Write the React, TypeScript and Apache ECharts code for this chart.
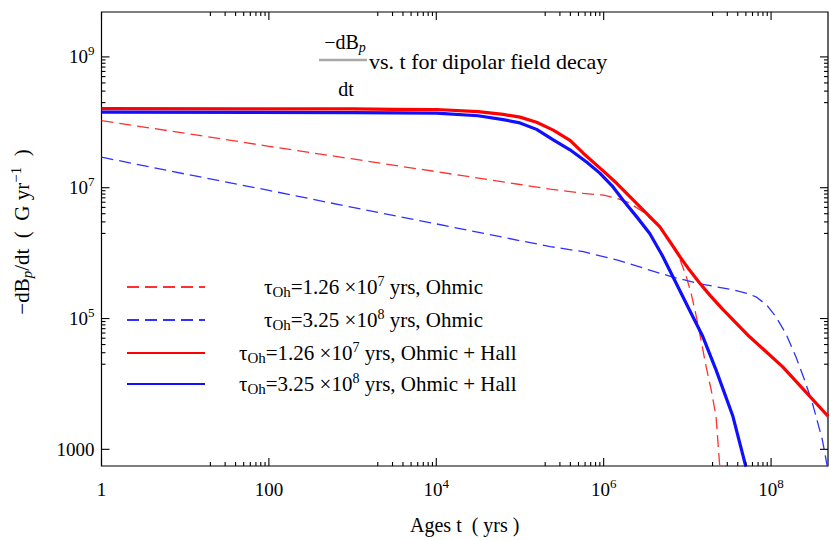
import React, { useEffect, useRef } from "react";
import * as echarts from "echarts";

const FONT = "Liberation Serif, Times New Roman, serif";

// Age t (yrs) versus -dB_p/dt (G/yr)
const ohmic126: [number, number][] = [
  [1, 1.06e8], [10, 6.8e7], [100, 4.3e7], [1e3, 2.75e7], [1e4, 1.76e7], [1e5, 1.12e7],
  [2.3e5, 9.5e6], [5.7e5, 8.2e6], [1e6, 7.7e6], [1.43e6, 6.9e6], [2e6, 5.9e6], [2.95e6, 4.3e6],
  [4.67e6, 2.5e6], [6e6, 1.6e6], [7.4e6, 1.12e6], [9.7e6, 4.4e5], [1.12e7, 2.3e5],
  [1.28e7, 1.07e5], [1.46e7, 4.6e4], [1.68e7, 1.8e4], [1.93e7, 8e3], [2.2e7, 3.2e3], [2.45e7, 500],
];
const ohmic325: [number, number][] = [
  [1, 2.93e7], [10, 1.62e7], [100, 9.1e6], [1e3, 5.0e6], [1e4, 2.8e6], [1e5, 1.55e6],
  [2.3e5, 1.26e6], [5.7e5, 1.05e6], [1.43e6, 7.9e5], [3.55e6, 5.5e5], [6.7e6, 4.3e5],
  [1.4e7, 3.4e5], [3.5e7, 2.75e5], [5e7, 2.45e5], [6.6e7, 2.15e5], [8.9e7, 1.6e5],
  [1.14e8, 1.07e5], [1.51e8, 5.8e4], [1.98e8, 2.6e4], [2.5e8, 1.17e4], [3.12e8, 5.1e3],
  [4.1e8, 1.4e3], [4.7e8, 545],
];
const ohmicHall126: [number, number][] = [
  [1, 1.62e8], [1e3, 1.6e8], [3.16e3, 1.58e8], [1e4, 1.57e8], [3.16e4, 1.46e8], [6.3e4, 1.32e8],
  [1e5, 1.2e8], [1.58e5, 1.0e8], [2.5e5, 7.6e7], [4e5, 5.25e7], [5.7e5, 3.37e7], [1e6, 1.78e7],
  [1.43e6, 1.17e7], [2e6, 7.6e6], [2.95e6, 4.6e6], [4.67e6, 2.54e6], [6.3e6, 1.45e6],
  [8.1e6, 8.9e5], [1.05e7, 5.6e5], [1.4e7, 3.5e5], [1.9e7, 2.2e5], [2.65e7, 1.38e5],
  [5.5e7, 5.3e4], [1.37e8, 1.84e4], [4.8e8, 3.2e3],
];
const ohmicHall325: [number, number][] = [
  [1, 1.43e8], [1e3, 1.41e8], [1e4, 1.38e8], [3.16e4, 1.26e8], [6.3e4, 1.1e8], [1e5, 9.8e7],
  [1.58e5, 7.8e7], [2.5e5, 5.4e7], [3.96e5, 3.8e7], [6.3e5, 2.45e7], [9e5, 1.67e7],
  [1.26e6, 1.07e7], [1.7e6, 6.5e6], [2.5e6, 3.55e6], [3.55e6, 2.0e6], [5e6, 9.3e5],
  [6.7e6, 4.4e5], [1.06e7, 1.35e5], [1.53e7, 5.3e4], [2.2e7, 1.64e4], [3.5e7, 3.2e3], [5.0e7, 545],
];

const seriesNames = [
  "τOh=1.26 ×10^7 yrs, Ohmic",
  "τOh=3.25 ×10^8 yrs, Ohmic",
  "τOh=1.26 ×10^7 yrs, Ohmic + Hall",
  "τOh=3.25 ×10^8 yrs, Ohmic + Hall",
];
const legendLabels = [
  "{gap|}τ{sub|Oh}=1.26 ×10{sup|7} yrs, Ohmic",
  "{gap|}τ{sub|Oh}=3.25 ×10{sup|8} yrs, Ohmic",
  "{gapw|}τ{sub|Oh}=1.26 ×10{sup|7} yrs, Ohmic + Hall",
  "{gapw|}τ{sub|Oh}=3.25 ×10{sup|8} yrs, Ohmic + Hall",
];
const legendRowY = [286, 319, 352, 383];

// axis extents and tick layout (powers of ten)
const X_MIN = 1;
const X_MAX = 4.79e8;
const Y_MIN = 556;
const Y_MAX = 4.86e9;
const xLabelPowers = [0, 2, 4, 6, 8];
const yLabelPowers = [3, 5, 7, 9];
const xMinorDecades = [10, 1e3, 1e5, 1e7];
const yMinorDecades = [1e4, 1e6, 1e8];
const minorSteps = [2, 3, 4, 5, 6, 7, 8, 9];
const MAJOR_LEN = 8;
const MINOR_LEN = 4;

const supRich = {
  sup: { fontFamily: FONT, fontSize: 13, color: "#000", lineHeight: 10, padding: [0, 0, 12, 0] },
};

function powerLabel(v: number, powers: number[]): string {
  const lg = Math.log10(v);
  const e = Math.round(lg);
  if (Math.abs(lg - e) > 1e-6 || !powers.includes(e)) return "";
  if (e === 0) return "1";
  if (e === 2) return "100";
  if (e === 3) return "1000";
  return `10{sup|${e}}`;
}

export default function App() {
  const ref = useRef<HTMLDivElement>(null);

  useEffect(() => {
    if (!ref.current) return;
    const chart = echarts.init(ref.current, undefined, { renderer: "svg" });

    const xTicks: number[][] = [
      ...xLabelPowers.map((p) => [Math.pow(10, p), Y_MIN * 10, MAJOR_LEN]),
      ...xMinorDecades.flatMap((d) => minorSteps.map((m) => [m * d, Y_MIN * 10, MINOR_LEN])),
    ];
    const yTicks: number[][] = [
      ...yLabelPowers.map((p) => [10, Math.pow(10, p), MAJOR_LEN]),
      ...yMinorDecades.flatMap((d) => minorSteps.map((m) => [10, m * d, MINOR_LEN])),
    ];

    const tickStyle = { stroke: "#000", lineWidth: 1.1 };

    const lineSeries = [
      { data: ohmic126, color: "#ff3030", width: 1.3, dashed: true },
      { data: ohmic325, color: "#3030ff", width: 1.3, dashed: true },
      { data: ohmicHall126, color: "#ff0000", width: 3.2, dashed: false },
      { data: ohmicHall325, color: "#1010ff", width: 3.2, dashed: false },
    ].map((s, i) => ({
      type: "line",
      name: seriesNames[i],
      data: s.data,
      symbol: "none",
      smooth: false,
      clip: true,
      color: s.color,
      lineStyle: { color: s.color, width: s.width, type: s.dashed ? [12, 6] : "solid", join: "round" },
      z: s.dashed ? 2 : 3,
    }));

    chart.setOption({
      animation: false,
      backgroundColor: "#ffffff",
      title: {
        text: "vs. t for dipolar field decay",
        left: 369,
        top: 50,
        padding: 0,
        textStyle: { fontFamily: FONT, fontSize: 22, fontWeight: "normal", color: "#000" },
      },
      graphic: [
        {
          type: "text",
          x: 345,
          y: 42,
          style: {
            text: "−dB{p|p}",
            fontFamily: FONT,
            fontSize: 20,
            fill: "#000",
            align: "center",
            verticalAlign: "middle",
            rich: {
              p: { fontFamily: FONT, fontStyle: "italic", fontSize: 14, fill: "#000", lineHeight: 12, padding: [10, 0, 0, 0] },
            },
          },
        },
        {
          type: "line",
          shape: { x1: 319, y1: 60, x2: 367, y2: 60 },
          style: { stroke: "#a8a8a8", lineWidth: 2.5 },
        },
        {
          type: "text",
          x: 346,
          y: 89,
          style: { text: "dt", fontFamily: FONT, fontSize: 20, fill: "#000", align: "center", verticalAlign: "middle" },
        },
      ],
      legend: seriesNames.map((name, i) => ({
        data: [name],
        left: 126,
        top: legendRowY[i] - 12,
        padding: 0,
        itemWidth: 78,
        itemHeight: 14,
        selectedMode: false,
        itemStyle: { opacity: 0 },
        formatter: () => legendLabels[i],
        textStyle: {
          fontFamily: FONT,
          fontSize: 21,
          color: "#000",
          lineHeight: 24,
          rich: {
            gap: { width: 54 },
            gapw: { width: 29 },
            sub: { fontFamily: FONT, fontSize: 15, color: "#000", lineHeight: 14, padding: [10, 0, 0, 0] },
            sup: { fontFamily: FONT, fontSize: 14, color: "#000", lineHeight: 12, padding: [0, 0, 12, 0] },
          },
        },
      })),
      grid: {
        left: 101,
        right: 1,
        top: 12,
        bottom: 74,
        show: true,
        borderColor: "#000",
        borderWidth: 1.2,
        backgroundColor: "transparent",
      },
      xAxis: {
        type: "log",
        logBase: 10,
        min: X_MIN,
        max: X_MAX,
        axisLine: { show: false },
        axisTick: { show: false },
        splitLine: { show: false },
        axisLabel: {
          margin: 12,
          fontFamily: FONT,
          fontSize: 19,
          color: "#000",
          lineHeight: 22,
          formatter: (v: number) => powerLabel(v, xLabelPowers),
          rich: supRich,
        },
        name: "Ages t  ( yrs )",
        nameLocation: "middle",
        nameGap: 49,
        nameTextStyle: { fontFamily: FONT, fontSize: 20, color: "#000" },
      },
      yAxis: {
        type: "log",
        logBase: 10,
        min: Y_MIN,
        max: Y_MAX,
        axisLine: { show: false },
        axisTick: { show: false },
        splitLine: { show: false },
        axisLabel: {
          margin: 7,
          fontFamily: FONT,
          fontSize: 19,
          color: "#000",
          lineHeight: 22,
          formatter: (v: number) => powerLabel(v, yLabelPowers),
          rich: supRich,
        },
        name: "−dB{sub|p}/dt  (  G yr{sup|−1}  )",
        nameLocation: "middle",
        nameRotate: 90,
        nameGap: 68,
        nameTextStyle: {
          fontFamily: FONT,
          fontSize: 21,
          color: "#000",
          lineHeight: 24,
          padding: [0, 0, 0, 14],
          rich: {
            sub: { fontFamily: FONT, fontStyle: "italic", fontSize: 15, color: "#000", lineHeight: 14, padding: [10, 0, 0, 0] },
            sup: { fontFamily: FONT, fontSize: 15, color: "#000", lineHeight: 12, padding: [0, 0, 12, 0] },
          },
        },
      },
      series: [
        ...lineSeries,
        {
          type: "custom",
          silent: true,
          z: 5,
          clip: false,
          encode: { x: 0, y: 1 },
          data: xTicks,
          renderItem: (params: any, api: any) => {
            const cs = params.coordSys;
            const px = api.coord([api.value(0), Y_MIN * 10])[0];
            const len = api.value(2);
            const yb = cs.y + cs.height;
            return {
              type: "group",
              children: [
                { type: "line", shape: { x1: px, y1: yb, x2: px, y2: yb - len }, style: tickStyle },
                { type: "line", shape: { x1: px, y1: cs.y, x2: px, y2: cs.y + len }, style: tickStyle },
              ],
            };
          },
        },
        {
          type: "custom",
          silent: true,
          z: 5,
          clip: false,
          encode: { x: 0, y: 1 },
          data: yTicks,
          renderItem: (params: any, api: any) => {
            const cs = params.coordSys;
            const py = api.coord([10, api.value(1)])[1];
            const len = api.value(2);
            const xr = cs.x + cs.width;
            return {
              type: "group",
              children: [
                { type: "line", shape: { x1: cs.x, y1: py, x2: cs.x + len, y2: py }, style: tickStyle },
                { type: "line", shape: { x1: xr, y1: py, x2: xr - len, y2: py }, style: tickStyle },
              ],
            };
          },
        },
      ],
    });

    return () => chart.dispose();
  }, []);

  return (
    <div
      ref={ref}
      style={{ position: "absolute", left: 0, top: 0, width: 831, height: 540, background: "#fff" }}
    />
  );
}
